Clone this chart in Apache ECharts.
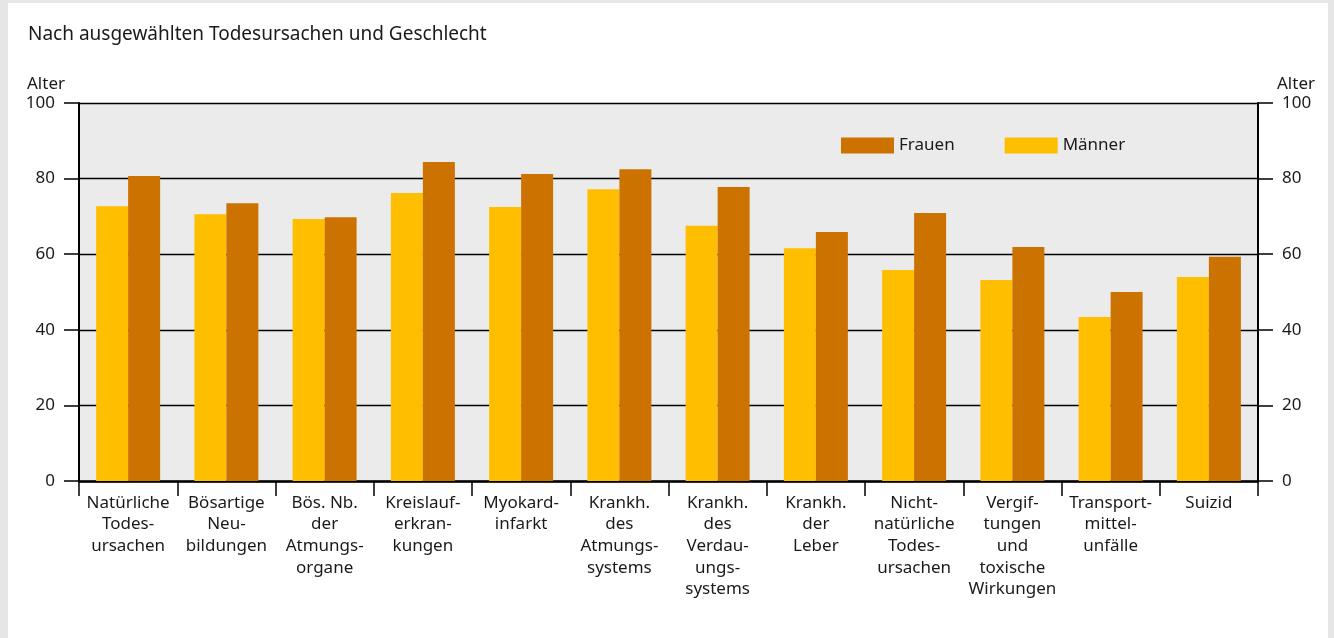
<!DOCTYPE html>
<html>
<head>
<meta charset="utf-8">
<script src="https://cdn.jsdelivr.net/npm/echarts@6/dist/echarts.min.js"></script>
<style>
	html, body { margin: 0; padding: 0; background: #e6e6e6; }
	#panel { position: absolute; left: 8px; top: 3px; width: 1320px; height: 640px; background: #ffffff; }
	#chart { position: absolute; left: 0; top: 0; width: 1334px; height: 638px; }
</style>
</head>
<body>
<div id="panel"></div>
<div id="chart"></div>
<script>
var categories = [ 'Natürliche\nTodes-\nursachen', 'Bösartige\nNeu-\nbildungen',
		'Bös. Nb.\nder\nAtmungs-\norgane', 'Kreislauf-\nerkran-\nkungen',
		'Myokard-\ninfarkt', 'Krankh.\ndes\nAtmungs-\nsystems',
		'Krankh.\ndes\nVerdau-\nungs-\nsystems', 'Krankh.\nder\nLeber',
		'Nicht-\nnatürliche\nTodes-\nursachen',
		'Vergif-\ntungen\nund\ntoxische\nWirkungen',
		'Transport-\nmittel-\nunfälle', 'Suizid' ];
var maenner = [ 72.7, 70.6, 69.3, 76.2, 72.5, 77.2, 67.5, 61.6, 55.8, 53.2, 43.4, 54.0 ];
var frauen = [ 80.7, 73.5, 69.8, 84.4, 81.2, 82.5, 77.8, 65.9, 70.9, 61.9, 50.0, 59.3 ];
var legendNames = [ 'Frauen', 'Männer' ];

var font = 'Noto Sans';
var textColor = '#1a1a1a';

function yAxisDef(pos) {
	return {
		type : 'value',
		position : pos,
		min : 0,
		max : 100,
		interval : 20,
		name : 'Alter',
		nameLocation : 'end',
		nameGap : 19,
		nameTextStyle : {
			fontFamily : font,
			fontSize : 17,
			color : textColor,
			align : pos == 'left' ? 'right' : 'left',
			verticalAlign : 'middle',
			padding : pos == 'left' ? [ 0, 14, 0, 0 ] : [ 0, 0, 0, 19 ]
		},
		axisLine : {
			show : true,
			lineStyle : { color : '#000', width : 2 }
		},
		axisTick : {
			show : true,
			length : 15,
			lineStyle : { color : '#000', width : 1.5 }
		},
		axisLabel : {
			margin : 24,
			fontFamily : font,
			fontSize : 17,
			color : textColor
		},
		splitLine : {
			show : pos == 'left',
			lineStyle : { color : '#000', width : 1.3 }
		}
	};
}

var option = {
	animation : false,
	title : {
		text : 'Nach ausgewählten Todesursachen und Geschlecht',
		left : 28,
		top : 25,
		padding : 0,
		textStyle : {
			fontFamily : font,
			fontSize : 19,
			fontWeight : 'normal',
			color : textColor
		}
	},
	legend : {
		data : legendNames,
		left : 841,
		top : 137,
		padding : 0,
		icon : 'rect',
		itemWidth : 53,
		itemHeight : 16,
		itemGap : 50,
		textStyle : {
			fontFamily : font,
			fontSize : 17,
			color : textColor
		}
	},
	color : [ '#ffbe00', '#cc7200' ],
	grid : {
		left : 79,
		right : 76,
		top : 103,
		bottom : 157,
		show : true,
		backgroundColor : '#ebebeb',
		borderWidth : 0
	},
	xAxis : {
		type : 'category',
		data : categories,
		axisLine : {
			lineStyle : { color : '#000', width : 2.5 }
		},
		axisTick : {
			show : true,
			length : 15,
			lineStyle : { color : '#000', width : 1.5 }
		},
		axisLabel : {
			interval : 0,
			margin : 11,
			fontFamily : font,
			fontSize : 17,
			lineHeight : 21.7,
			color : textColor,
			align : 'center'
		}
	},
	yAxis : [ yAxisDef('left'), yAxisDef('right') ],
	series : [ {
		name : 'Männer',
		type : 'bar',
		data : maenner,
		barWidth : 32,
		barGap : '0%'
	}, {
		name : 'Frauen',
		type : 'bar',
		data : frauen,
		barWidth : 32,
		barGap : '0%'
	} ]
};

var myChart = echarts.init(document.getElementById('chart'));
myChart.setOption(option);
</script>
</body>
</html>
